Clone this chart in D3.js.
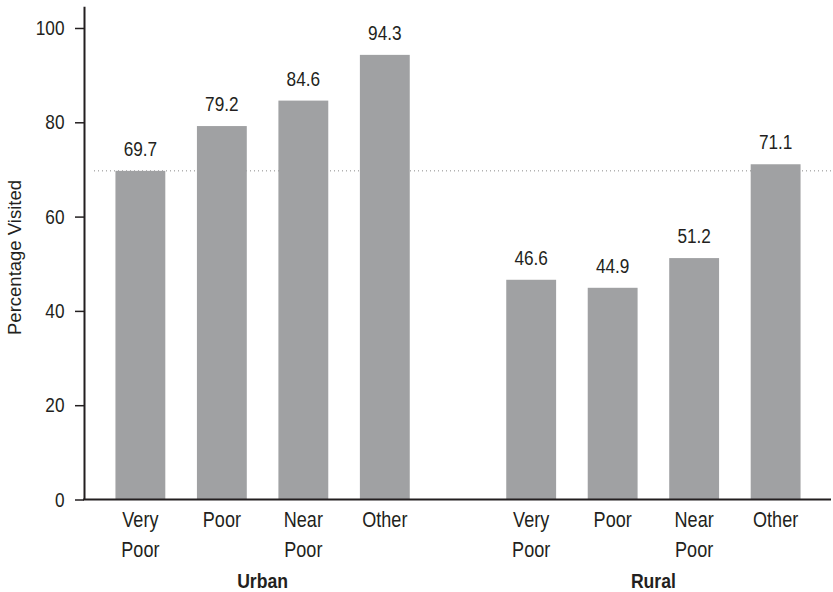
<!DOCTYPE html>
<html>
<head>
<meta charset="utf-8">
<script src="https://cdn.jsdelivr.net/npm/d3@7"></script>
<style>
  html, body { margin: 0; padding: 0; background: #fff; }
  svg { display: block; font-family: "Liberation Sans", Arial, sans-serif; }
</style>
</head>
<body>
<svg id="chart" width="833" height="592"></svg>
<script>
// Share of people who visited, by poverty status and area
const groups = ["Urban", "Rural"];
const categories = ["Very Poor", "Poor", "Near Poor", "Other"];
const urbanValues = [69.7, 79.2, 84.6, 94.3];
const ruralValues = [46.6, 44.9, 51.2, 71.1];
const yTicks = [0, 20, 40, 60, 80, 100];
const yLabel = "Percentage Visited";

const seriesByGroup = { Urban: urbanValues, Rural: ruralValues };
const rows = groups.flatMap(g =>
  categories.map((c, i) => ({ group: g, category: c, value: seriesByGroup[g][i] })));

const svg = d3.select("#chart");
const ink = "#231f20";
const barFill = "#a0a1a3";
const narrow = 0.84; // horizontal squeeze for a condensed look

const y = d3.scaleLinear().domain([0, 104.6]).range([499.5, 6.3]);
const x0 = d3.scaleBand().domain(groups).range([84, 832])
  .paddingInner(0.166).paddingOuter(0.04);
const x1 = d3.scaleBand().domain(categories).range([0, x0.bandwidth()])
  .paddingInner(0.388).paddingOuter(0.194);
const cx = d => x0(d.group) + x1(d.category) + x1.bandwidth() / 2;

// place condensed text at (x, y)
function condensed(sel, fx, fy) {
  return sel.attr("x", 0).attr("y", 0)
    .attr("transform", (d, i) => `translate(${fx(d, i)},${fy(d, i)}) scale(${narrow},1)`);
}

// dotted reference line at the urban "Very Poor" level
svg.append("line")
  .attr("x1", 94).attr("x2", 833)
  .attr("y1", y(urbanValues[0])).attr("y2", y(urbanValues[0]))
  .attr("stroke", "#8a8a8a").attr("stroke-width", 1)
  .attr("stroke-dasharray", "1,3");

// bars
svg.append("g").selectAll("rect").data(rows).join("rect")
  .attr("x", d => x0(d.group) + x1(d.category))
  .attr("y", d => y(d.value))
  .attr("width", x1.bandwidth())
  .attr("height", d => y(0) - y(d.value))
  .attr("fill", barFill);

// value labels
svg.append("g").selectAll("text").data(rows).join("text")
  .call(condensed, cx, d => y(d.value) - 15)
  .attr("text-anchor", "middle")
  .attr("font-size", 20.5)
  .attr("fill", ink)
  .text(d => d.value.toFixed(1));

// y axis
const yAxis = svg.append("g")
  .attr("transform", "translate(84,0)")
  .call(d3.axisLeft(y).tickValues(yTicks).tickSize(9).tickSizeOuter(0).tickPadding(10));
yAxis.attr("font-family", null).attr("font-size", null);
yAxis.select(".domain").attr("stroke", ink).attr("stroke-width", 2);
yAxis.selectAll(".tick line").attr("stroke", ink).attr("stroke-width", 1.5);
yAxis.selectAll(".tick text")
  .attr("x", 0)
  .attr("transform", `translate(-19.5,0) scale(${narrow},1)`)
  .attr("font-size", 20.5)
  .attr("fill", ink);

// x baseline
const xAxis = svg.append("g")
  .attr("transform", `translate(0,${y(0)})`)
  .call(d3.axisBottom(x0).tickSize(0).tickSizeOuter(0).tickFormat(""));
xAxis.select(".domain").attr("stroke", ink).attr("stroke-width", 2)
  .attr("d", "M83,0H831");

// category labels (two lines where needed)
const catLabels = svg.append("g");
rows.forEach(d => {
  const t = catLabels.append("text")
    .attr("transform", `translate(${cx(d)},527) scale(${narrow},1)`)
    .attr("text-anchor", "middle")
    .attr("font-size", 21.5)
    .attr("fill", ink);
  d.category.split(" ").forEach((w, i) => {
    t.append("tspan").attr("x", 0).attr("y", i * 30).text(w);
  });
});

// group labels
svg.append("g").selectAll("text").data(groups).join("text")
  .call(condensed, g => x0(g) + x0.bandwidth() / 2, () => 588)
  .attr("text-anchor", "middle")
  .attr("font-size", 21)
  .attr("font-weight", "bold")
  .attr("fill", ink)
  .text(g => g);

// y axis title
svg.append("text")
  .attr("transform", "translate(20.5,257.5) rotate(-90)")
  .attr("text-anchor", "middle")
  .attr("font-size", 18.5)
  .attr("fill", ink)
  .text(yLabel);
</script>
</body>
</html>
